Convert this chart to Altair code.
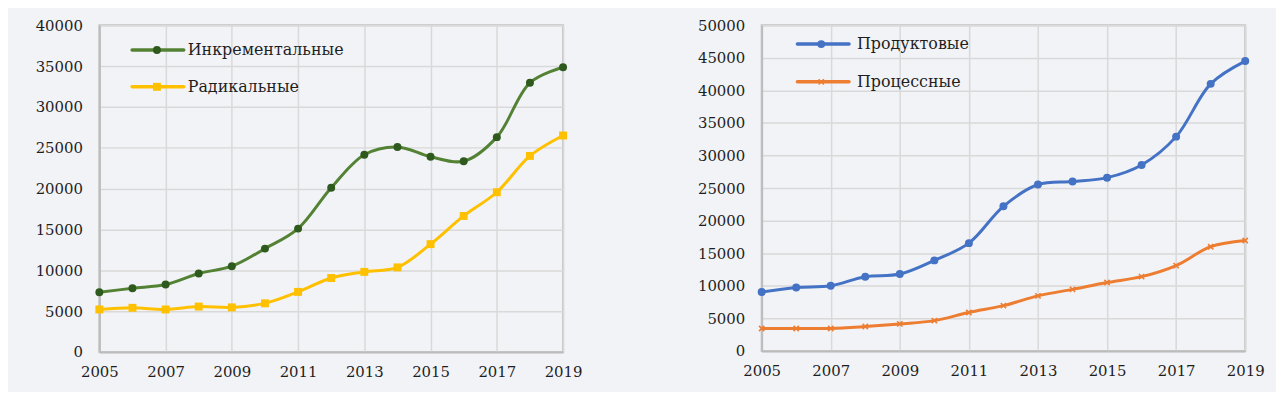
import altair as alt
import pandas as pd

years = list(range(2005, 2020))
incremental = [7300, 7800, 8250, 9600, 10500, 12650, 15100, 20100, 24150, 25100, 23900, 23350, 26300, 32950, 34850]
radical = [5200, 5400, 5200, 5550, 5450, 5950, 7350, 9050, 9800, 10350, 13200, 16650, 19550, 24000, 26500]
product = [9050, 9750, 10000, 11400, 11800, 13900, 16550, 22200, 25550, 26000, 26600, 28550, 32900, 41000, 44500]
process = [3450, 3450, 3450, 3750, 4150, 4650, 5900, 6950, 8450, 9450, 10500, 11400, 13100, 16000, 16950]

names_left = ["Инкрементальные", "Радикальные"]
names_right = ["Продуктовые", "Процессные"]
x_ticks = list(range(2005, 2020, 2))

FONT = "DejaVu Serif"
TEXT = "#1e1e1e"
XSHAPE = "M-1,-1L1,1M-1,1L1,-1"


def series_layers(name, values, line_color, marker_color, shape, filled, ymax, leg_y, leg_x0, leg_x1, leg_mx, leg_tx):
    df = pd.DataFrame({"year": years, "value": values, "series": [name] * len(years)})
    x = alt.X("year:Q", scale=alt.Scale(domain=[2005, 2019], nice=False, zero=False),
              axis=alt.Axis(values=x_ticks, format="d", title=None))
    y = alt.Y("value:Q", scale=alt.Scale(domain=[0, ymax], nice=False),
              axis=alt.Axis(values=list(range(0, ymax + 1, 5000)), format="d", title=None))
    base = alt.Chart(df)
    line = base.mark_line(color=line_color, strokeWidth=3, interpolate="catmull-rom").encode(x=x, y=y)
    if filled:
        pts = base.mark_point(shape=shape, filled=True, size=64, color=marker_color, opacity=1).encode(x=x, y=y)
    else:
        pts = base.mark_point(shape=shape, filled=False, size=28, color=marker_color, strokeWidth=1.6, opacity=1).encode(x=x, y=y)
    leg = alt.Chart(pd.DataFrame({"label": [name]}))
    leg_line = leg.mark_rule(color=line_color, strokeWidth=3.5, strokeCap="round").encode(
        x=alt.value(leg_x0), x2=alt.value(leg_x1), y=alt.value(leg_y))
    if filled:
        leg_pt = leg.mark_point(shape=shape, filled=True, size=64, color=marker_color, opacity=1).encode(
            x=alt.value(leg_mx), y=alt.value(leg_y))
    else:
        leg_pt = leg.mark_point(shape=shape, filled=False, size=28, color=marker_color, strokeWidth=1.6, opacity=1).encode(
            x=alt.value(leg_mx), y=alt.value(leg_y))
    leg_txt = leg.mark_text(align="left", baseline="middle", font=FONT, fontSize=16, color=TEXT).encode(
        x=alt.value(leg_tx), y=alt.value(leg_y), text="label:N")
    return [line, pts, leg_line, leg_pt, leg_txt]


left_layers = (
    series_layers(names_left[0], incremental, "#548235", "#2f5a1e", "circle", True, 40000, 25, 33, 85, 58, 89)
    + series_layers(names_left[1], radical, "#ffc000", "#ffc000", "square", True, 40000, 62, 33, 85, 58, 89)
)
right_layers = (
    series_layers(names_right[0], product, "#4472c4", "#4472c4", "circle", True, 50000, 19, 36, 88, 60, 96)
    + series_layers(names_right[1], process, "#ed7d31", "#ed7d31", XSHAPE, False, 50000, 57, 36, 88, 60, 96)
)

left = alt.layer(*left_layers).properties(width=467, height=329)
right = alt.layer(*right_layers).properties(width=487, height=328)

chart = alt.hconcat(left, right, spacing=113).properties(
    background="#f2f3f7",
    padding={"left": 26, "top": 8, "right": 10, "bottom": 10},
).configure_view(
    stroke="#c4c4c4", strokeWidth=2, fill="#f2f3f7"
).configure_axis(
    labelFont=FONT, labelFontSize=15, labelColor=TEXT,
    gridColor="#d9d9d9", gridWidth=1.5,
    domainColor="#bcbcbc", domainWidth=2,
    ticks=False,
).configure_axisY(
    labelPadding=17, minExtent=64, maxExtent=64,
).configure_axisX(
    labelPadding=13, labelFlush=False,
)

chart.save("out.html", embed_options={"renderer": "svg", "actions": False})
